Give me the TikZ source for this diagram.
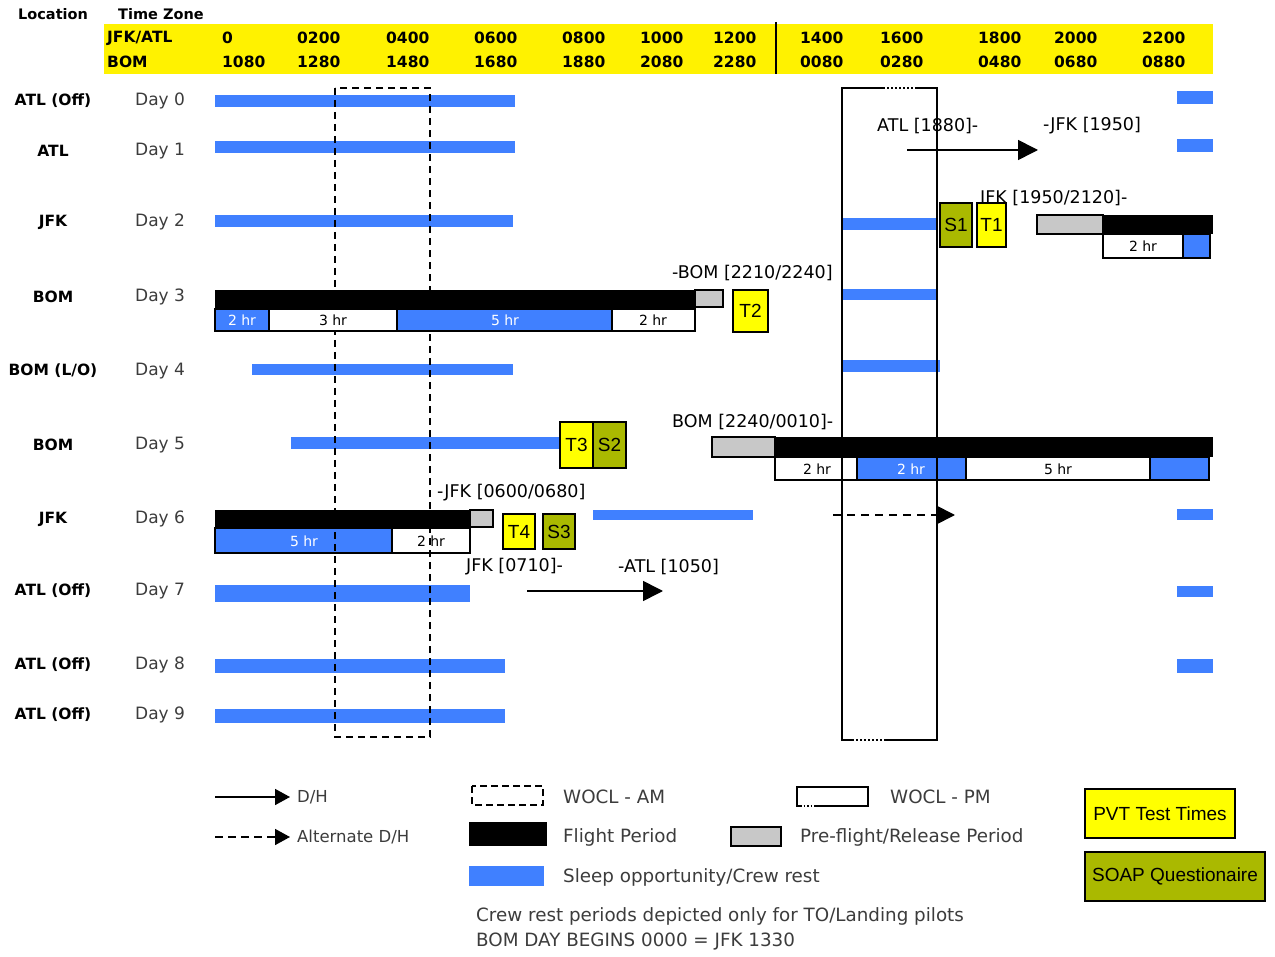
\documentclass[tikz,border=0pt]{standalone}
\usepackage{fontspec}
\setmainfont{DejaVu Sans}
\newfontfamily\arialf{Liberation Sans}
\usetikzlibrary{arrows.meta}
\definecolor{hdr}{RGB}{255,242,0}
\definecolor{blu}{RGB}{64,128,255}
\definecolor{olv}{RGB}{170,185,0}
\definecolor{yel}{RGB}{255,255,0}
\definecolor{gry}{RGB}{200,200,200}
\definecolor{txtg}{RGB}{60,60,60}
\newcommand{\fsz}[1]{\fontsize{#1}{#1}\selectfont}
\begin{document}
\begin{tikzpicture}[x=1pt,y=-1pt,
  sleep/.style={fill=blu},
  flight/.style={fill=black},
  pre/.style={fill=gry,draw=black,line width=1.5pt},
  wbox/.style={fill=white,draw=black,line width=1.5pt},
  bbox/.style={fill=blu,draw=black,line width=1.5pt},
  hdrtxt/.style={font=\bfseries\fsz{15.5}, inner sep=0, anchor=west},
  loctxt/.style={font=\bfseries\fsz{15.5}, inner sep=0},
  daytxt/.style={font=\fsz{17}, inner sep=0, anchor=west, text=txtg},
  lbl/.style={font=\fsz{17.5}, inner sep=0, anchor=west},
  hrtxt/.style={font=\fsz{14}, inner sep=0},
  legtxt/.style={font=\fsz{18.3}, inner sep=0, anchor=west, text=txtg},
  pvt/.style={draw=black, line width=1.5pt, font=\arialf\fsz{19}, inner sep=0, minimum height=44pt},
  wocl/.style={line width=1.8pt},
  dh/.style={line width=1.6pt, -{Triangle[length=20pt,width=20pt]}},
  dhleg/.style={line width=1.6pt, -{Triangle[length=15pt,width=16pt]}},
  adh/.style={line width=1.6pt, dash pattern=on 8pt off 6pt, -{Triangle[length=17pt,width=17pt]}},
]
\useasboundingbox[fill=white] (0,0) rectangle (1275,957);

% ---------- header ----------
\node[font=\bfseries\fsz{14.5}, inner sep=0, anchor=west] (hloc) at (18,14) {Location};
\node[font=\bfseries\fsz{14.5}, inner sep=0, anchor=west] (htz) at (118,14) {Time Zone};
\fill[hdr] (104,24) rectangle (1213,74);
\draw[line width=2pt] (776,22) -- (776,74);
\node[hdrtxt] (hjfk) at (107,38) {JFK/ATL};
\node[hdrtxt] (hbom) at (107,62) {BOM};
\foreach \x/\a/\b [count=\i] in {222/0/1080,297/0200/1280,386/0400/1480,474/0600/1680,562/0800/1880,640/1000/2080,713/1200/2280,800/1400/0080,880/1600/0280,978/1800/0480,1054/2000/0680,1142/2200/0880}{
  \node[hdrtxt] (ha\i) at (\x,38) {\a};
  \node[hdrtxt] (hb\i) at (\x,62) {\b};
}

% ---------- row labels ----------
\foreach \y/\loc/\d [count=\i] in {101/{ATL (Off)}/0,151/ATL/1,222/JFK/2,297/BOM/3,371/{BOM (L/O)}/4,445/BOM/5,519/JFK/6,591/{ATL (Off)}/7,665/{ATL (Off)}/8,715/{ATL (Off)}/9}{
  \node[loctxt] (loc\i) at (53,\y) {\loc};
  \node[daytxt] (day\i) at (135,\y) {Day \d};
}

% ---------- sleep bars ----------
\path[sleep] (215,95) rectangle (515,107);
\path[sleep] (1177,91) rectangle (1213,104);
\path[sleep] (215,141) rectangle (515,153);
\path[sleep] (1177,139) rectangle (1213,152);
\path[sleep] (215,215) rectangle (513,227);
\path[sleep] (842,218) rectangle (937,230);
\path[sleep] (842,289) rectangle (937,300);
\path[sleep] (252,364) rectangle (513,375);
\path[sleep] (842,360) rectangle (940,372);
\path[sleep] (291,437) rectangle (560,449);
\path[sleep] (593,510) rectangle (753,520);
\path[sleep] (1177,509) rectangle (1213,520);
\path[sleep] (215,585) rectangle (470,602);
\path[sleep] (1177,586) rectangle (1213,597);
\path[sleep] (215,659) rectangle (505,673);
\path[sleep] (1177,659) rectangle (1213,673);
\path[sleep] (215,709) rectangle (505,723);

% ---------- Day 2 right flight ----------
\node[lbl] (l2) at (980,199) {JFK [1950/2120]-};
\path[pre] (1037,215) rectangle (1103,234);
\path[flight] (1103,215) rectangle (1213,234);
\path[wbox] (1103,234) rectangle (1183,258);
\path[bbox] (1183,234) rectangle (1210,258);
\node[hrtxt] (h21) at (1143,246) {2 hr};
\node[pvt, fill=olv, minimum width=32pt] (S1) at (956,225) {S1};
\node[pvt, fill=yel, minimum width=29pt] (T1) at (991.5,225) {T1};

% ---------- Day 5 ----------
\node[pvt, fill=yel, minimum width=33pt, minimum height=46pt] (T3) at (576.5,445) {T3};
\node[pvt, fill=olv, minimum width=33pt, minimum height=46pt] (S2) at (609.5,445) {S2};
\node[lbl] (l5) at (672,422) {BOM [2240/0010]-};
\path[pre] (712,437) rectangle (775,457);
\path[flight] (775,437) rectangle (1213,457);
\path[wbox] (775,457) rectangle (857,480);
\path[bbox] (857,457) rectangle (966,480);
\path[wbox] (966,457) rectangle (1150,480);
\path[bbox] (1150,457) rectangle (1209,480);
\node[hrtxt] (h51) at (817,469) {2 hr};
\node[hrtxt, text=white] (h52) at (911,469) {2 hr};
\node[hrtxt] (h53) at (1058,469) {5 hr};

% ---------- Day 6 ----------
\node[lbl] (l6) at (437,493) {-JFK [0600/0680]};
\path[flight] (215,510) rectangle (470,528);
\path[pre] (470,510) rectangle (493,527);
\path[bbox] (215,528) rectangle (392,553);
\path[wbox] (392,528) rectangle (470,553);
\node[hrtxt, text=white] (h61) at (304,541) {5 hr};
\node[hrtxt] (h62) at (431,541) {2 hr};
\node[pvt, fill=yel, minimum width=32pt, minimum height=35pt] (T4) at (519,531.5) {T4};
\node[pvt, fill=olv, minimum width=32pt, minimum height=35pt] (S3) at (559,531.5) {S3};

% ---------- D/H arrows ----------
\node[lbl] (l1a) at (877,126) {ATL [1880]-};
\node[lbl] (l1b) at (1043,126) {-JFK [1950]};
\coordinate (a1s) at (907,150);
\coordinate (a1e) at (1038,150);
\draw[dh] (a1s) -- (a1e);
\node[lbl] (l7a) at (466,567) {JFK [0710]-};
\node[lbl] (l7b) at (618,567) {-ATL [1050]};
\coordinate (a7s) at (527,591);
\coordinate (a7e) at (663,591);
\draw[dh] (a7s) -- (a7e);
\coordinate (a6s) at (833,515);
\coordinate (a6e) at (955,515);
\draw[adh] (a6s) -- (a6e);

% ---------- WOCL windows ----------
\draw[wocl, dash pattern=on 7pt off 5pt] (335,88) rectangle (430,737);
\draw[wocl] (883,88) -- (842,88) -- (842,740) -- (852,740);
\draw[wocl] (885,740) -- (937,740) -- (937,88) -- (917,88);
\draw[line width=1.5pt, dash pattern=on 2pt off 2pt] (883,88) -- (917,88);
\draw[line width=1.5pt, dash pattern=on 2pt off 2pt] (852,740) -- (885,740);

% ---------- Day 3 flight (drawn over the WOCL window) ----------
\node[lbl] (l3) at (672,273) {-BOM [2210/2240]};
\path[flight] (215,290) rectangle (695,309);
\path[pre] (695,290) rectangle (723,307);
\path[bbox] (215,309) rectangle (269,331);
\path[wbox] (269,309) rectangle (397,331);
\path[bbox] (397,309) rectangle (612,331);
\path[wbox] (612,309) rectangle (695,331);
\node[hrtxt, text=white] (h31) at (242,320) {2 hr};
\node[hrtxt] (h32) at (333,320) {3 hr};
\node[hrtxt, text=white] (h33) at (505,320) {5 hr};
\node[hrtxt] (h34) at (653,320) {2 hr};
\node[pvt, fill=yel, minimum width=35pt, minimum height=42pt] (T2) at (750.5,311) {T2};

% ---------- legend ----------
\coordinate (ld1s) at (215,797);
\coordinate (ld1e) at (290,797);
\draw[dhleg] (ld1s) -- (ld1e);
\node[font=\fsz{16.5}, inner sep=0, anchor=west, text=txtg] (ldh) at (297,797) {D/H};
\coordinate (ld2s) at (215,837);
\coordinate (ld2e) at (290,837);
\draw[dhleg, dash pattern=on 8pt off 5pt] (ld2s) -- (ld2e);
\node[font=\fsz{16.5}, inner sep=0, anchor=west, text=txtg] (ladh) at (297,837) {Alternate D/H};

\draw[wocl, dash pattern=on 7pt off 4pt] (472,786) rectangle (543,805);
\node[legtxt] (lwam) at (563,797) {WOCL - AM};
\fill[black] (469,822) rectangle (547,846);
\node[legtxt] (lfp) at (563,837) {Flight Period};
\fill[blu] (469,866) rectangle (544,886);
\node[legtxt] (lsl) at (563,877) {Sleep opportunity/Crew rest};

\draw[wocl] (815,806) -- (868,806) -- (868,787) -- (797,787) -- (797,806) -- (800,806);
\draw[line width=1.3pt, dash pattern=on 1.5pt off 2pt] (800,806) -- (815,806);
\node[legtxt] (lwpm) at (890,797) {WOCL - PM};
\path[pre] (731,827) rectangle (781,846);
\node[legtxt] (lpre) at (800,837) {Pre-flight/Release Period};

\node[legtxt] (n1) at (476,916) {Crew rest periods depicted only for TO/Landing pilots};
\node[legtxt] (n2) at (476,942) {BOM DAY BEGINS 0000 = JFK 1330};

\node[pvt, fill=yel, minimum width=150pt, minimum height=49pt] (lpvt) at (1160,813.5) {PVT Test Times};
\node[pvt, fill=olv, minimum width=180pt, minimum height=49pt] (lsoap) at (1175,876.5) {SOAP Questionaire};
\end{tikzpicture}
\end{document}
